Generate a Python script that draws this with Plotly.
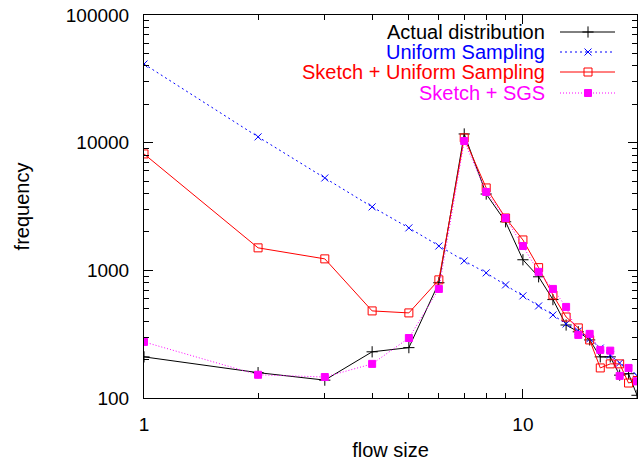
import plotly.graph_objects as go

flow_size = list(range(1, 21))
actual = [210, 158, 138, 230, 248, 800, 11700, 3960, 2400, 1210, 890, 590, 373, 330, 285, 210, 210, 151, 155, 105]
uniform = [41300, 11100, 5290, 3140, 2150, 1550, 1186, 955, 769, 631, 526, 447, 380, 335, 290, 246, 217, 188, 170, 150]
sketch_uniform = [8160, 1500, 1230, 481, 464, 842, 10900, 4420, 2570, 1730, 1050, 641, 431, 354, 285, 172, 185, 185, 131, 137]
sketch_sgs = [275, 152, 146, 185, 295, 715, 10300, 4110, 2570, 1550, 973, 715, 517, 312, 318, 238, 235, 149, 172, 135]

names = ["Actual distribution", "Uniform Sampling", "Sketch + Uniform Sampling", "Sketch + SGS"]
colors = ["#000000", "#0000ff", "#ff0000", "#ff00ff"]
dashes = ["solid", "2px,3px", "solid", "1px,2px"]
symbols = ["cross-thin-open", "x-thin-open", "square-open", "square"]
msizes = [8, 7, 8, 7]
series = [actual, uniform, sketch_uniform, sketch_sgs]

x_ticks = [1, 10]
y_ticks = [100, 1000, 10000, 100000]
y_tick_text = ["100", "1000", "10000", "100000"]

FONT = "Liberation Sans, Arial, sans-serif"

W, H = 638, 464
L, R, T, B = 144, 637, 15, 398  # plot-area edges in figure pixels

fig = go.Figure()
for name, col, dash, sym, ms, vals in zip(names, colors, dashes, symbols, msizes, series):
    fig.add_trace(go.Scatter(
        x=flow_size, y=vals, mode="lines+markers", name=name,
        line=dict(color=col, width=1, dash=dash),
        marker=dict(symbol=sym, size=ms, color=col, line=dict(color=col, width=1)),
        showlegend=False,
    ))

# Manual legend (text right-aligned, sample on the right) on a pixel overlay axis
rows = [32, 52, 72, 93]
for name, col, dash, sym, ms, yy in zip(names, colors, dashes, symbols, msizes, rows):
    fig.add_trace(go.Scatter(
        x=[560, 615], y=[yy, yy], xaxis="x2", yaxis="y2", mode="lines",
        line=dict(color=col, width=1, dash=dash), showlegend=False, hoverinfo="skip"))
    fig.add_trace(go.Scatter(
        x=[588], y=[yy], xaxis="x2", yaxis="y2", mode="markers",
        marker=dict(symbol=sym, size=ms, color=col, line=dict(color=col, width=1)),
        showlegend=False, hoverinfo="skip"))
    fig.add_annotation(x=547, y=yy, xref="x2", yref="y2", text=name, showarrow=False,
                       xanchor="right", yanchor="middle",
                       font=dict(family=FONT, size=20, color=col))

minor_x = [2, 3, 4, 5, 6, 7, 8, 9, 20]
minor_y = [v * m for v in [100, 1000, 10000] for m in range(2, 10)]

fig.update_layout(
    width=W, height=H,
    margin=dict(l=L, r=W - R, t=T, b=H - B, autoexpand=False),
    paper_bgcolor="white", plot_bgcolor="white",
    font=dict(family=FONT, size=19, color="black"),
    xaxis=dict(
        type="log", range=[0, 1.30103], tickvals=x_ticks, ticktext=["1", "10"],
        ticks="inside", ticklen=9, tickwidth=1, tickcolor="black",
        showline=True, linecolor="black", linewidth=1, mirror="ticks",
        showgrid=False, zeroline=False, automargin=False,
        minor=dict(tickvals=minor_x, ticks="inside", ticklen=5, tickcolor="black", showgrid=False),
        title=dict(text="flow size", font=dict(size=20), standoff=9),
        tickfont=dict(size=19), ticklabelstandoff=9, ticklabeloverflow="allow",
    ),
    yaxis=dict(
        type="log", range=[2, 5], tickvals=y_ticks, ticktext=y_tick_text,
        ticks="inside", ticklen=9, tickwidth=1, tickcolor="black",
        showline=True, linecolor="black", linewidth=1, mirror="ticks",
        showgrid=False, zeroline=False, automargin=False,
        minor=dict(tickvals=minor_y, ticks="inside", ticklen=5, tickcolor="black", showgrid=False),
        title=dict(text="frequency", font=dict(size=20), standoff=30),
        tickfont=dict(size=19), ticklabelstandoff=10, ticklabeloverflow="allow",
    ),
    xaxis2=dict(overlaying="x", range=[144, 637], visible=False, fixedrange=True),
    yaxis2=dict(overlaying="y", range=[398, 15], visible=False, fixedrange=True),
)

fig.write_html("out.html", config={"displayModeBar": False},
               post_script="document.body.style.margin='0';document.body.style.overflow='hidden';")
